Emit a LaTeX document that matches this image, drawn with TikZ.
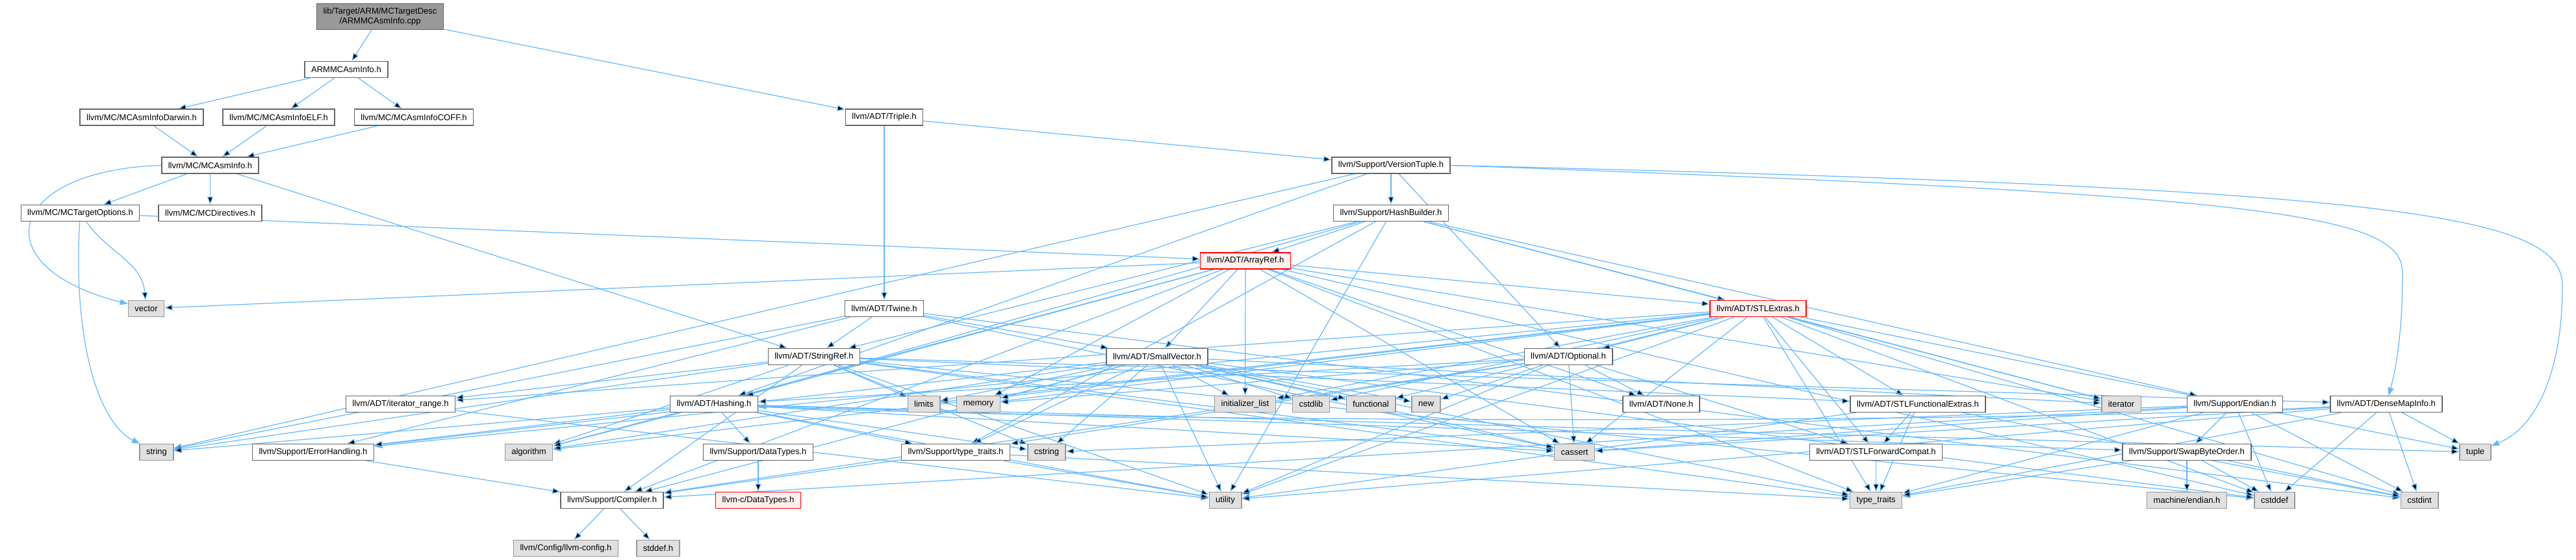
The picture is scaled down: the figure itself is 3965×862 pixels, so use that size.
\documentclass[tikz,border=0pt]{standalone}
\usepackage{fontspec}
\setmainfont{Liberation Sans}
\usetikzlibrary{arrows.meta,backgrounds}

\definecolor{edgeblue}{HTML}{63B8FF}
\definecolor{boxline}{HTML}{666666}
\definecolor{sysfill}{HTML}{E0E0E0}
\definecolor{sysline}{HTML}{999999}
\definecolor{truncfill}{HTML}{FFF0F0}

\begin{document}
\begin{tikzpicture}[
    x=1pt, y=-1pt,
    >={Stealth[length=12pt,width=9pt,inset=0pt]},
    font=\fontsize{13}{15}\selectfont,
    hdr/.style={draw=boxline, fill=white, line width=1.4pt, inner xsep=10pt, inner ysep=0pt, minimum height=25pt},
    sys/.style={hdr, draw=sysline, fill=sysfill},
    trunc/.style={hdr, draw=red, fill=truncfill},
    root/.style={hdr, fill=sysline, minimum height=40pt, align=center},
    dep/.style={->, draw=edgeblue, line width=1.2pt}
]

    \useasboundingbox (0,0) rectangle (3965,862);

    % --- The file and the MC headers ---
    \node[root] (cpp) at (585,25.5) {lib/Target/ARM/MCTargetDesc\\/ARMMCAsmInfo.cpp};
    \node[hdr] (armh) at (533,107) {ARMMCAsmInfo.h};
    \node[hdr] (darwin) at (218,180.6) {llvm/MC/MCAsmInfoDarwin.h};
    \node[hdr] (elf) at (429,180.6) {llvm/MC/MCAsmInfoELF.h};
    \node[hdr] (coff) at (637,180.6) {llvm/MC/MCAsmInfoCOFF.h};
    \node[hdr] (triple) at (1361,180.6) {llvm/ADT/Triple.h};
    \node[hdr] (mcasm) at (323.5,254.5) {llvm/MC/MCAsmInfo.h};
    \node[hdr] (vtuple) at (2141,254.5) {llvm/Support/VersionTuple.h};
    \node[hdr] (tgtopt) at (123.5,328) {llvm/MC/MCTargetOptions.h};
    \node[hdr] (mcdir) at (323.5,328) {llvm/MC/MCDirectives.h};
    \node[hdr] (hashb) at (2141,328) {llvm/Support/HashBuilder.h};

    % --- ADT headers ---
    \node[trunc] (arrayref) at (1917,401.5) {llvm/ADT/ArrayRef.h};
    \node[sys] (vector) at (225,475) {vector};
    \node[hdr] (twine) at (1361,475) {llvm/ADT/Twine.h};
    \node[trunc] (stlext) at (2706,475) {llvm/ADT/STLExtras.h};
    \node[hdr] (stringref) at (1253,549) {llvm/ADT/StringRef.h};
    \node[hdr] (smallvec) at (1781,549) {llvm/ADT/SmallVector.h};
    \node[hdr] (optional) at (2414,549) {llvm/ADT/Optional.h};

    % --- Row of small headers ---
    \node[hdr] (itrange) at (616.5,622) {llvm/ADT/iterator\_range.h};
    \node[hdr] (hashing) at (1099,622) {llvm/ADT/Hashing.h};
    \node[sys] (limits) at (1422,622) {limits};
    \node[sys] (memory) at (1506,622) {memory};
    \node[sys] (initlist) at (1916.5,622) {initializer\_list};
    \node[sys] (cstdlib) at (2018,622) {cstdlib};
    \node[sys] (functional) at (2110,622) {functional};
    \node[sys] (cnew) at (2195,622) {new};
    \node[hdr] (none) at (2557,622) {llvm/ADT/None.h};
    \node[hdr] (stlfunc) at (2952,622) {llvm/ADT/STLFunctionalExtras.h};
    \node[sys] (iterator) at (3265,622) {iterator};
    \node[hdr] (endian) at (3440,622) {llvm/Support/Endian.h};
    \node[hdr] (densemap) at (3673,622) {llvm/ADT/DenseMapInfo.h};

    \node[sys] (string) at (241,696) {string};
    \node[hdr] (errh) at (482,696) {llvm/Support/ErrorHandling.h};
    \node[sys] (algorithm) at (814,696) {algorithm};
    \node[hdr] (datatypes) at (1167,696) {llvm/Support/DataTypes.h};
    \node[hdr] (ttraitsh) at (1471,696) {llvm/Support/type\_traits.h};
    \node[sys] (cstring) at (1611,696) {cstring};
    \node[sys] (cassert) at (2423.5,696) {cassert};
    \node[hdr] (stlfwd) at (2887.6,696) {llvm/ADT/STLForwardCompat.h};
    \node[hdr] (swap) at (3366,696) {llvm/Support/SwapByteOrder.h};
    \node[sys] (tuple) at (3810,696) {tuple};

    % --- Bottom rows ---
    \node[hdr] (compiler) at (942,770) {llvm/Support/Compiler.h};
    \node[trunc] (cdatatypes) at (1167,770) {llvm-c/DataTypes.h};
    \node[sys] (utility) at (1886,770) {utility};
    \node[sys] (ttraits) at (2887.6,770) {type\_traits};
    \node[sys] (mendian) at (3366,770) {machine/endian.h};
    \node[sys] (cstddef) at (3501,770) {cstddef};
    \node[sys] (cstdint) at (3724,770) {cstdint};
    \node[sys] (llvmconfig) at (871,844) {llvm/Config/llvm-config.h};
    \node[sys] (stddef) at (1013,844) {stddef.h};

    % --- Includes ---
    \begin{pgfonlayer}{background}
    \path[dep] (cpp) edge (armh) edge (triple);
    \path[dep] (armh) edge (darwin) edge (elf) edge (coff);
    \path[dep] (darwin) edge (mcasm);
    \path[dep] (elf) edge (mcasm);
    \path[dep] (coff) edge (mcasm);
    \path[dep] (triple) edge (twine) edge (vtuple);
    \path[dep] (mcasm) edge (tgtopt) edge (mcdir) edge (stringref);
    \draw[dep] (mcasm.west) .. controls (10,262) and (-30,410) .. (vector);
    \draw[dep] (tgtopt) .. controls (112,520) and (150,650) .. (string);
    \path[dep] (tgtopt) edge[out=-55,in=95] (vector) edge (arrayref);

    \path[dep] (vtuple) edge (hashb) edge (hashing) edge (optional) edge (string);
    \draw[dep] (vtuple.east) .. controls (3500,300) and (3698,330) .. (3698,420) .. controls (3698,500) and (3690,560) .. (densemap);
    \draw[dep] (vtuple.east) .. controls (3700,290) and (3944,330) .. (3944,440) .. controls (3944,580) and (3900,660) .. (tuple);

    \path[dep] (hashb) edge (arrayref) edge (hashing) edge (stlext) edge (stringref)
        edge (endian) edge (ttraitsh) edge (iterator) edge (utility);
    \path[dep] (arrayref) edge (hashing) edge (none) edge (stlext) edge (smallvec)
        edge (compiler) edge (algorithm) edge (cassert) edge (cstddef) edge (initlist)
        edge (iterator) edge (memory) edge (ttraits) edge (vector);
    \path[dep] (twine) edge (smallvec) edge (stringref) edge (errh) edge (cassert)
        edge (cstdint) edge (string);
    \path[dep] (stlext) edge (optional) edge (stlfwd) edge (stlfunc) edge (itrange)
        edge (errh) edge (algorithm) edge (cassert) edge (cstddef) edge (cstdint)
        edge (cstdlib) edge (functional) edge (initlist) edge (iterator) edge (limits)
        edge (memory) edge (tuple) edge (ttraits) edge (utility);
    \path[dep] (stringref) edge (densemap) edge (stlfunc) edge (itrange) edge (compiler)
        edge (algorithm) edge (cassert) edge (cstddef) edge (cstring) edge (limits)
        edge (string) edge (ttraits) edge (utility);
    \path[dep] (smallvec) edge (compiler) edge (errh) edge (ttraitsh) edge (algorithm)
        edge (cassert) edge (cstddef) edge (cstdlib) edge (cstring) edge (functional)
        edge (initlist) edge (iterator) edge (limits) edge (memory) edge (cnew)
        edge (ttraits) edge (utility);
    \path[dep] (optional) edge (hashing) edge (none) edge (stlfwd) edge (compiler)
        edge (ttraitsh) edge (cassert) edge (memory) edge (cnew) edge (utility);
    \path[dep] (hashing) edge (errh) edge (datatypes) edge (swap) edge (ttraitsh)
        edge (algorithm) edge (cassert) edge (cstring) edge (string) edge (tuple)
        edge (utility);
    \path[dep] (itrange) edge (utility);
    \path[dep] (errh) edge (compiler);
    \path[dep] (datatypes) edge (cdatatypes);
    \path[dep] (compiler) edge (llvmconfig) edge (stddef);
    \path[dep] (ttraitsh) edge (compiler) edge (ttraits) edge (utility);
    \path[dep] (stlfunc) edge (stlfwd) edge (cstdint) edge (ttraits) edge (utility);
    \path[dep] (stlfwd) edge (ttraits);
    \path[dep] (endian) edge (compiler) edge (swap) edge (cassert) edge (cstddef)
        edge (cstdint) edge (cstring) edge (ttraits);
    \path[dep] (swap) edge (mendian) edge (cstddef) edge (cstdint) edge (ttraits);
    \path[dep] (densemap) edge (cassert) edge (cstddef) edge (cstdint) edge (tuple)
        edge (ttraits) edge (utility);
    \draw[dep] (densemap) .. controls (3000,655) and (1700,650) .. (hashing);
    \end{pgfonlayer}

\end{tikzpicture}
\end{document}
